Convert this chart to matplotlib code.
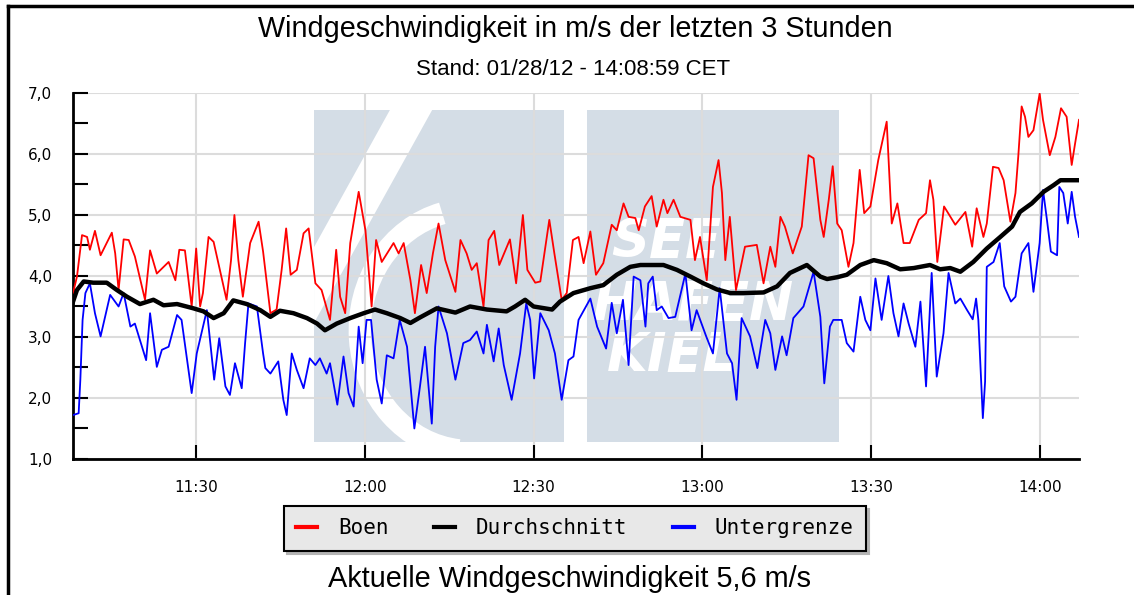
import matplotlib.pyplot as plt
from matplotlib.lines import Line2D
from matplotlib.patches import Rectangle, Polygon, Arc

# minutes after 11:00 and wind speed in m/s
boen_t = [8.1, 8.8, 9.7, 10.6, 11.1, 12.0, 13.0, 15.0, 15.6, 16.2, 17.1, 18.0, 19.1, 20.9,
          21.8, 23.0, 25.1, 26.3, 27.0, 28.0, 29.2, 30.0, 30.7, 31.2, 32.2, 33.1, 35.4, 36.2,
          36.8, 37.5, 38.3, 39.6, 41.1, 41.9, 43.2, 44.3, 45.2, 46.0, 46.8, 47.9, 49.1, 50.0,
          51.2, 52.3, 53.8, 54.9, 55.6, 56.5, 57.4, 58.9, 60.1, 61.2, 62.0, 63.0, 65.1, 66.0,
          66.9, 68.1, 68.9, 70.0, 71.0, 72.1, 73.1, 74.3, 76.1, 77.0, 78.1, 79.0, 79.9, 81.1,
          82.0, 83.0, 83.9, 85.8, 86.9, 88.1, 88.9, 90.3, 91.2, 92.8, 93.7, 95.0, 95.9, 97.0,
          98.0, 98.9, 100.1, 101.1, 102.4, 103.9, 104.8, 106.0, 106.9, 108.1, 108.7, 109.8,
          111.0, 111.9, 113.1, 113.8, 114.9, 116.1, 117.9, 118.7, 119.6, 120.8, 121.9, 122.9,
          123.5, 124.1, 124.9, 126.0, 127.6, 129.7, 130.9, 132.1, 133.0, 133.9, 134.7, 136.1,
          137.7, 138.9, 139.8, 141.0, 141.6, 142.5, 143.2, 144.0, 144.8, 146.0, 146.9, 148.0,
          148.8, 149.9, 151.3, 152.8, 153.7, 154.7, 155.8, 156.9, 158.5, 159.8, 160.5, 161.1,
          161.8, 163.0, 165.0, 166.8, 168.0, 168.8, 170.0, 170.6, 171.7, 172.7, 173.6, 174.8,
          175.7, 176.2, 176.8, 177.4, 178.0, 178.9, 180.0, 180.6, 181.8, 182.8, 183.8, 184.8,
          185.7, 186.3, 187.0]
boen_v = [3.72, 3.99, 4.67, 4.64, 4.43, 4.74, 4.34, 4.71, 4.37, 3.77, 4.60, 4.59, 4.32, 3.61,
          4.42, 4.04, 4.23, 3.93, 4.43, 4.42, 3.50, 4.45, 3.50, 3.72, 4.64, 4.56, 3.61, 4.26,
          5.00, 4.26, 3.66, 4.54, 4.89, 4.40, 3.39, 3.45, 4.10, 4.78, 4.02, 4.10, 4.70, 4.78,
          3.88, 3.77, 3.28, 4.43, 3.66, 3.39, 4.54, 5.38, 4.75, 3.50, 4.59, 4.23, 4.54, 4.37,
          4.54, 3.93, 3.39, 4.18, 3.72, 4.37, 4.86, 4.26, 3.74, 4.59, 4.37, 4.10, 4.21, 3.50,
          4.59, 4.74, 4.18, 4.60, 3.88, 5.00, 4.10, 3.89, 3.91, 4.92, 4.37, 3.61, 3.72, 4.59,
          4.64, 4.21, 4.73, 4.02, 4.21, 4.84, 4.75, 5.19, 4.97, 4.95, 4.75, 5.14,
          5.31, 4.81, 5.25, 5.03, 5.25, 4.97, 4.92, 4.26, 4.64, 3.93, 5.46, 5.90,
          5.36, 4.26, 4.97, 3.77, 4.48, 4.51, 3.88, 4.48, 4.15, 4.97, 4.81, 4.37,
          4.81, 5.98, 5.93, 4.92, 4.64, 5.25, 5.80, 4.86, 4.75, 4.15, 4.54, 5.74,
          5.03, 5.14, 5.90, 6.53, 4.86, 5.19, 4.54, 4.54, 4.92, 5.03, 5.57, 5.25,
          4.23, 5.14, 4.84, 5.05, 4.48, 5.11, 4.64, 4.86, 5.79, 5.77, 5.57, 4.89,
          5.36, 5.96, 6.78, 6.61, 6.28, 6.39, 6.99, 6.56, 5.98, 6.28, 6.75, 6.61,
          5.82, 6.17, 6.56]

schnitt_t = [8.1, 8.8, 10.0, 11.7, 14.1, 15.9, 17.7, 20.0, 22.4, 24.2, 26.6, 29.5, 31.3, 33.1,
             34.9, 36.6, 39.0, 41.4, 43.2, 44.9, 47.3, 49.7, 51.5, 52.9, 55.0, 57.4, 59.8,
             61.8, 63.9, 66.3, 68.1, 69.8, 72.8, 76.1, 78.7, 81.7, 85.2, 86.7, 88.5, 90.0,
             93.3, 94.7, 97.1, 100.1, 102.4, 104.8, 107.2, 109.0, 113.1, 115.5, 117.9, 120.2,
             122.6, 125.0, 127.3, 130.9, 133.3, 135.6, 138.6, 141.0, 142.2, 144.0, 145.7,
             148.1, 150.5, 152.8, 155.2, 157.6, 160.5, 162.3, 164.1, 165.9, 168.2, 170.6,
             173.0, 175.1, 176.5, 178.6, 180.7, 182.5, 183.7, 187.0]
schnitt_v = [3.58, 3.77, 3.91, 3.89, 3.89, 3.77, 3.66, 3.54, 3.61, 3.52, 3.54, 3.47, 3.42, 3.31,
             3.39, 3.60, 3.54, 3.44, 3.33, 3.43, 3.39, 3.31, 3.22, 3.11, 3.22, 3.31, 3.39,
             3.45, 3.39, 3.31, 3.23, 3.32, 3.47, 3.40, 3.50, 3.45, 3.42, 3.50, 3.61, 3.50,
             3.45, 3.58, 3.72, 3.80, 3.85, 4.02, 4.15, 4.18, 4.18, 4.10, 3.99, 3.88,
             3.78, 3.72, 3.72, 3.73, 3.83, 4.05, 4.18, 3.99, 3.95, 3.98, 4.02,
             4.18, 4.26, 4.21, 4.11, 4.13, 4.18, 4.11, 4.13, 4.07, 4.23, 4.45,
             4.64, 4.81, 5.05, 5.19, 5.38, 5.49, 5.57, 5.57]

unter_t = [8.1, 9.1, 9.4, 9.8, 10.3, 11.1, 12.0, 13.0, 14.7, 16.2, 17.1, 18.3, 19.1, 21.1, 21.8,
           23.0, 23.9, 25.1, 26.6, 27.4, 29.2, 30.1, 31.9, 33.2, 34.1, 35.2, 36.0, 36.9, 38.1,
           38.7, 39.3, 40.8, 41.9, 42.3, 43.2, 44.6, 45.5, 46.1, 47.0, 47.9, 49.1, 50.2, 51.2,
           52.0, 53.2, 53.8, 55.1, 56.2, 57.1, 58.0, 58.9, 59.6, 60.3, 61.1, 62.1, 63.0, 63.9,
           65.1, 66.2, 67.5, 68.8, 69.8, 70.7, 71.9, 72.5, 73.1, 74.6, 76.1, 77.5, 78.7, 79.9,
           81.1, 81.7, 82.9, 83.8, 84.7, 86.1, 87.6, 88.7, 89.4, 90.1, 91.2, 92.7, 93.8, 95.0,
           96.2, 97.1, 98.0, 100.1, 101.3, 102.9, 103.9, 104.8, 105.9, 106.9, 107.8, 109.0,
           109.9, 110.4, 111.2, 111.9, 112.8, 114.0, 115.2, 117.0, 118.1, 119.0, 120.7, 121.9,
           123.1, 124.4, 125.3, 126.1, 127.0, 128.5, 129.8, 131.2, 132.1, 133.0, 134.2, 135.0,
           136.2, 138.0, 139.8, 141.0, 141.7, 142.7, 143.3, 144.8, 145.7, 146.9, 148.1, 149.0,
           149.9, 150.8, 151.9, 153.1, 154.0, 154.9, 155.8, 156.7, 157.9, 158.8, 159.8, 160.8,
           161.7, 162.9, 163.8, 165.0, 165.9, 167.1, 168.1, 168.7, 169.1, 169.9, 170.3, 170.6,
           171.8, 172.9, 173.7, 174.9, 175.7, 176.8, 178.0, 178.9, 180.0, 180.6, 181.3, 182.0,
           183.1, 183.5, 184.2, 185.0, 185.7, 186.3, 187.0]
unter_v = [1.72, 1.75, 2.30, 3.28, 3.72, 3.88, 3.39, 3.01, 3.69, 3.50, 3.72, 3.17, 3.22, 2.62, 3.39,
           2.51, 2.79, 2.84, 3.36, 3.28, 2.08, 2.73, 3.44, 2.30, 2.98, 2.19, 2.05, 2.57, 2.16,
           2.90, 3.55, 3.50, 2.73, 2.49, 2.40, 2.60, 1.97, 1.72, 2.73, 2.46, 2.16, 2.65, 2.54,
           2.65, 2.40, 2.57, 1.89, 2.68, 2.08, 1.86, 3.17, 2.57, 3.28, 3.28, 2.30, 1.91, 2.70,
           2.65, 3.28, 2.84, 1.50, 2.19, 2.84, 1.58, 2.84, 3.50, 3.06, 2.30, 2.90, 2.95, 3.09,
           2.73, 3.20, 2.60, 3.14, 2.54, 1.97, 2.73, 3.55, 3.28, 2.32, 3.39, 3.11, 2.73, 1.97,
           2.62, 2.68, 3.28, 3.63, 3.17, 2.81, 3.56, 3.06, 3.61, 2.54, 3.99, 3.93,
           3.17, 3.88, 3.99, 3.44, 3.50, 3.31, 3.33, 4.04, 3.11, 3.44, 3.01, 2.73,
           3.80, 2.73, 2.57, 1.97, 3.31, 3.01, 2.49, 3.28, 3.06, 2.46, 3.01, 2.70,
           3.31, 3.50, 4.07, 3.33, 2.24, 3.17, 3.28, 3.28, 2.90, 2.76, 3.66, 3.28,
           3.11, 3.96, 3.28, 4.00, 3.39, 3.01, 3.55, 3.22, 2.84, 3.58, 2.19, 4.05,
           2.35, 3.06, 4.05, 3.55, 3.63, 3.44, 3.29, 3.63, 3.28, 1.67, 2.27, 4.15,
           4.23, 4.54, 3.83, 3.58, 3.66, 4.37, 4.54, 3.74, 4.54, 5.41, 4.92, 4.40,
           4.34, 5.46, 5.36, 4.86, 5.38, 4.97, 4.64]

y_ticks = [1, 2, 3, 4, 5, 6, 7]
y_labels = ['1,0', '2,0', '3,0', '4,0', '5,0', '6,0', '7,0']
x_ticks = [30, 60, 90, 120, 150, 180]
x_labels = ['11:30', '12:00', '12:30', '13:00', '13:30', '14:00']

fig = plt.figure(figsize=(11.34, 5.95), dpi=100)
ax = fig.add_axes([0.0644, 0.2286, 0.8871, 0.6151])

# faded harbour logo behind the data
wm = '#d4dde6'
ax.add_patch(Rectangle((0.2396, 0.0464), 0.2485, 0.907, transform=ax.transAxes,
                       facecolor=wm, edgecolor='none', zorder=0.1))
ax.add_patch(Polygon([(0.315, 0.9536), (0.357, 0.9536), (0.2396, 0.372), (0.2396, 0.579)],
                     closed=True, transform=ax.transAxes, facecolor='white',
                     edgecolor='none', zorder=0.2))
ax.add_patch(Arc((0.395, 0.352), 0.22, 0.66, theta1=95, theta2=268, transform=ax.transAxes,
                 color='white', linewidth=16, zorder=0.2))
ax.add_patch(Rectangle((0.5114, 0.0464), 0.2496, 0.907, transform=ax.transAxes,
                       facecolor=wm, edgecolor='none', zorder=0.1))
for txt, xx, yy in [('SEE', 0.535, 0.593), ('HAFEN', 0.517, 0.421), ('KIEL', 0.531, 0.281)]:
    ax.text(xx, yy, txt, transform=ax.transAxes, color='white', fontsize=38,
            fontweight='bold', fontstyle='italic', va='center', ha='left', zorder=0.2)

ax.plot(boen_t, boen_v, color='#ff0000', lw=1.3, label='Boen', zorder=3)
ax.plot(schnitt_t, schnitt_v, color='black', lw=3.2, label='Durchschnitt', zorder=4)
ax.plot(unter_t, unter_v, color='#0000ff', lw=1.3, label='Untergrenze', zorder=3)

ax.set_xlim(8.1, 187.0)
ax.set_ylim(1, 7)
ax.set_axisbelow(True)
ax.grid(True, color='#dcdcdc', lw=1.5)

ax.set_yticks(y_ticks)
ax.set_yticklabels(y_labels)
ax.set_yticks([1.5, 2.5, 3.5, 4.5, 5.5, 6.5], minor=True)
ax.set_xticks(x_ticks)
ax.set_xticklabels(x_labels)
ax.tick_params(axis='y', which='both', direction='in', length=11, width=1.5, pad=15,
               labelsize=11)
ax.tick_params(axis='x', direction='in', length=10, width=1.5, pad=15, labelsize=11)

for s in ['top', 'right']:
    ax.spines[s].set_visible(False)
for s in ['left', 'bottom']:
    ax.spines[s].set_linewidth(2)

fig.text(0.507, 0.951, 'Windgeschwindigkeit in m/s der letzten 3 Stunden',
         family='Liberation Sans', fontsize=20.7, ha='center', va='center')
fig.text(0.505, 0.884, 'Stand: 01/28/12 - 14:08:59 CET',
         family='Liberation Sans', fontsize=16, ha='center', va='center')
fig.text(0.502, 0.027, 'Aktuelle Windgeschwindigkeit 5,6 m/s',
         family='Liberation Sans', fontsize=20.8, ha='center', va='center')

leg = ax.legend(loc='center', bbox_to_anchor=(575 / 1134, 1 - 528.5 / 595),
                bbox_transform=fig.transFigure, ncol=3, frameon=True, fancybox=False,
                shadow={'color': '#b4b4b4', 'alpha': 1.0},
                prop={'family': 'DejaVu Sans Mono', 'size': 15},
                handlelength=1.0, handletextpad=1.0, columnspacing=2.2, borderpad=0.6)
leg.get_frame().set_facecolor('#e8e8e8')
leg.get_frame().set_edgecolor('black')
leg.get_frame().set_linewidth(1.5)
leg.get_frame().set_alpha(1.0)
for h in leg.get_lines():
    h.set_linewidth(3)

# outer frame of the image
fig.add_artist(Line2D([0.0071, 0.0071], [0, 0.99], color='black', lw=2.5))
fig.add_artist(Line2D([0.0071, 1.0], [0.99, 0.99], color='black', lw=2.5))

fig.savefig('out.png', dpi=100)
